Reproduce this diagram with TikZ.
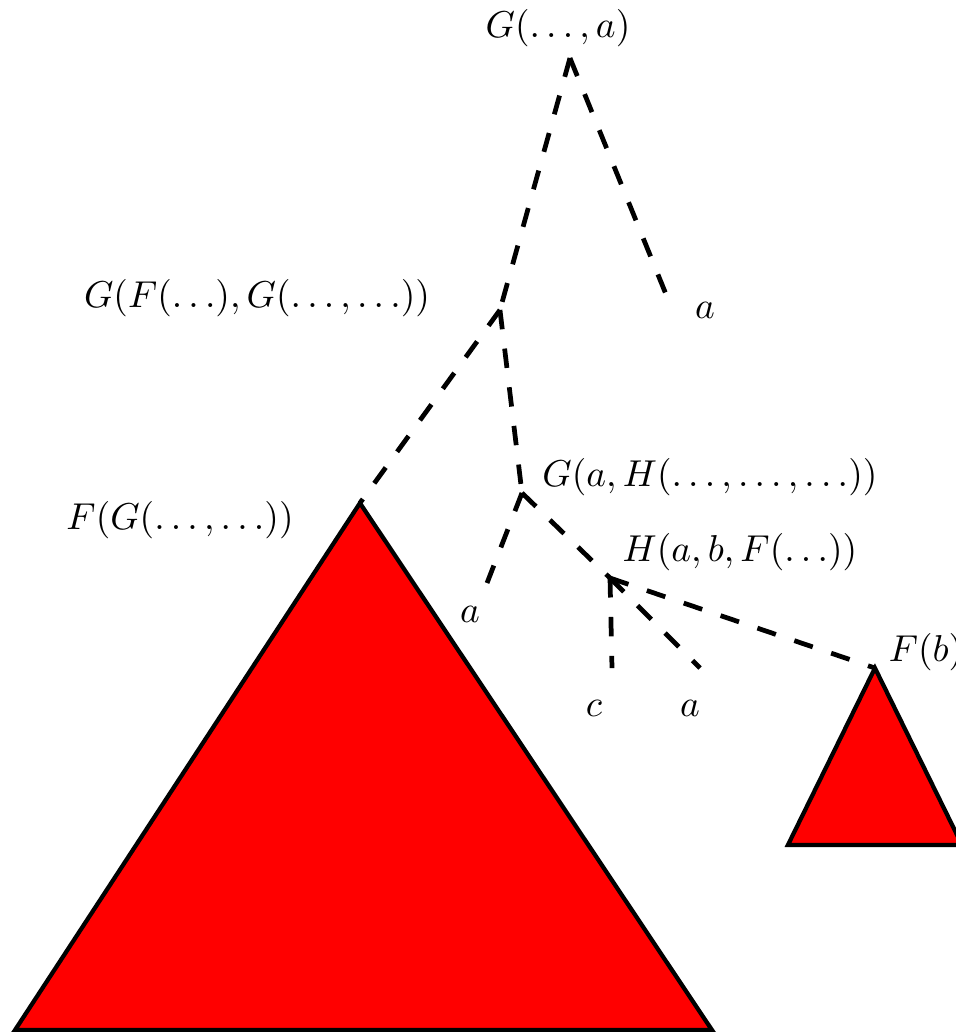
\documentclass[tikz,border=0pt]{standalone}
\tikzset{
	edge/.style={line width=0.95pt, dash pattern=on 3.9pt off 3.9pt},
	subtree/.style={draw=black, fill=red, line width=0.85pt, line join=miter},
	lbl/.style={scale=0.75}
}
\begin{document}
\begin{tikzpicture}[every node/.style={lbl}]
		\useasboundingbox (0,0) rectangle (6.732,7.268);
		% tree points
		\coordinate (root) at (4.014,6.859);
		\coordinate (leafa) at (4.718,5.127);
		\coordinate (gfg) at (3.521,5.085);
		\coordinate (fg) at (2.535,3.725);
		\coordinate (gah) at (3.676,3.796);
		\coordinate (leafb) at (3.430,3.162);
		\coordinate (hab) at (4.296,3.197);
		\coordinate (leafc) at (4.310,2.563);
		\coordinate (leafd) at (4.930,2.563);
		\coordinate (fb) at (6.162,2.563);
		% subtrees
		\draw[subtree] (fg) -- (0.106,0.014) -- (5.014,0.014) -- cycle;
		\draw[subtree] (fb) -- (5.549,1.317) -- (6.775,1.317) -- cycle;
		% edges
		\draw[edge] (root) -- (gfg);
		\draw[edge] (root) -- (leafa);
		\draw[edge] (gfg) -- (fg);
		\draw[edge] (gfg) -- (gah);
		\draw[edge] (gah) -- (leafb);
		\draw[edge] (gah) -- (hab);
		\draw[edge] (hab) -- (leafc);
		\draw[edge] (hab) -- (leafd);
		\draw[edge] (hab) -- (fb);
		% labels
		\node (lroot) at (3.930,7.070) {$G(\ldots,a)$};
		\node (la) at (4.965,5.085) {$a$};
		\node (lgfg) at (1.810,5.169) {$G(F(\ldots),G(\ldots,\ldots))$};
		\node (lfg) at (1.268,3.606) {$F(G(\ldots,\ldots))$};
		\node (lgah) at (5.0,3.908) {$G(a,H(\ldots,\ldots,\ldots))$};
		\node (lb) at (3.310,2.944) {$a$};
		\node (lhab) at (5.211,3.380) {$H(a,b,F(\ldots))$};
		\node (lc) at (4.183,2.282) {$c$};
		\node (ld) at (4.859,2.282) {$a$};
		\node[anchor=west, inner sep=0pt] (lfb) at (6.254,2.676) {$F(b)$};
	\end{tikzpicture}
\end{document}
